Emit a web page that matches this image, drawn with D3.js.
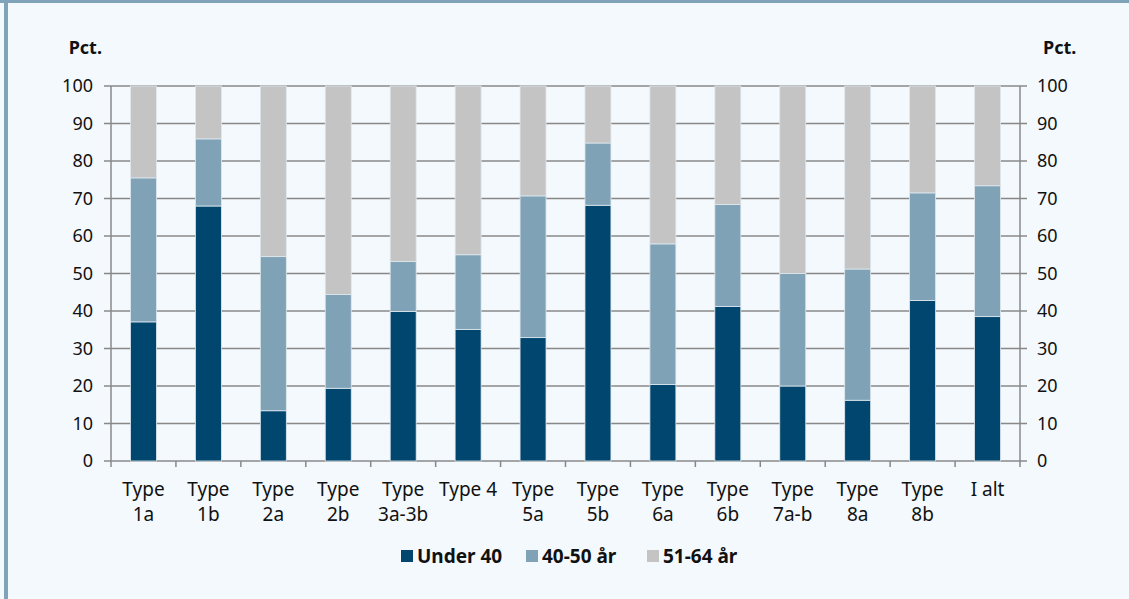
<!DOCTYPE html>
<html><head><meta charset="utf-8">
<script src="https://cdn.jsdelivr.net/npm/d3@7"></script>
<style>
html,body{margin:0;padding:0;background:#f4f9fd;}
svg{display:block;font-family:"Noto Sans",sans-serif;}
</style></head><body>
<svg id="c" width="1129" height="599"></svg>
<script>
const categories = ["Type 1a","Type 1b","Type 2a","Type 2b","Type 3a-3b","Type 4","Type 5a","Type 5b","Type 6a","Type 6b","Type 7a-b","Type 8a","Type 8b","I alt"];
const categoryLines = [["Type","1a"],["Type","1b"],["Type","2a"],["Type","2b"],["Type","3a-3b"],["Type 4"],["Type","5a"],["Type","5b"],["Type","6a"],["Type","6b"],["Type","7a-b"],["Type","8a"],["Type","8b"],["I alt"]];
const under40 = [37.1,68.0,13.4,19.4,39.9,35.1,32.9,68.2,20.4,41.2,20.0,16.2,42.8,38.5];
const age40to50 = [38.4,17.9,41.1,25.0,13.3,19.9,37.8,16.6,37.5,27.2,30.0,35.0,28.7,34.9];
const age51to64 = [24.5,14.1,45.5,55.6,46.8,45.0,29.3,15.2,42.1,31.6,50.0,48.8,28.5,26.6];
const seriesNames = ["Under 40","40-50 år","51-64 år"];
const seriesColors = ["#00466e","#7fa2b7","#c4c4c4"];
const yTicks = [0,10,20,30,40,50,60,70,80,90,100];

(function(){
const svg = d3.select("#c");
// frame
svg.append("rect").attr("x",0).attr("y",0).attr("width",1129).attr("height",3).attr("fill","#7fa3b8");
svg.append("rect").attr("x",4).attr("y",0).attr("width",4).attr("height",599).attr("fill","#7fa3b8");

const pl=111, pr=1020, pt=86, pb=461;
const x = d3.scaleBand().domain(categories).range([pl,pr]).paddingInner(0.6).paddingOuter(0.3);
const xb = d3.scaleBand().domain(categories).range([pl,pr]).padding(0);
const y = d3.scaleLinear().domain([0,100]).range([pb,pt]);

const data = categories.map((c,i)=>({cat:c, s0:under40[i], s1:age40to50[i], s2:age51to64[i]}));
const stack = d3.stack().keys(["s0","s1","s2"]);
const layers = stack(data);

// gridlines
svg.append("g").selectAll("line").data(yTicks).join("line")
  .attr("x1",pl-7).attr("x2",pr+7)
  .attr("y1",d=>y(d)).attr("y2",d=>y(d))
  .attr("stroke","#888").attr("stroke-width",1.5);

// bars
svg.append("g").selectAll("g").data(layers).join("g")
  .attr("fill",(d,i)=>seriesColors[i])
  .selectAll("rect").data(d=>d).join("rect")
  .attr("x",d=>x(d.data.cat)).attr("width",x.bandwidth())
  .attr("y",d=>y(d[1])).attr("height",d=>y(d[0])-y(d[1]))
  .attr("stroke","#dfe8ee").attr("stroke-width",0.8);

// axes lines
const axisColor="#888";
svg.append("line").attr("x1",pl).attr("x2",pl).attr("y1",pt).attr("y2",pb).attr("stroke",axisColor).attr("stroke-width",1.5);
svg.append("line").attr("x1",pr).attr("x2",pr).attr("y1",pt).attr("y2",pb).attr("stroke",axisColor).attr("stroke-width",1.5);
// x ticks at band boundaries
const bounds = categories.map(c=>xb(c)).concat([pr]);
svg.append("g").selectAll("line").data(bounds).join("line")
  .attr("x1",d=>d).attr("x2",d=>d).attr("y1",pb).attr("y2",pb+6)
  .attr("stroke",axisColor).attr("stroke-width",1.5);

const textColor="#111";
// y labels
svg.append("g").selectAll("text").data(yTicks).join("text")
  .attr("x",93).attr("y",d=>y(d)).attr("dy","0.36em").attr("text-anchor","end")
  .attr("font-size",18).attr("fill",textColor).text(d=>d);
svg.append("g").selectAll("text").data(yTicks).join("text")
  .attr("x",1037).attr("y",d=>y(d)).attr("dy","0.36em").attr("text-anchor","start")
  .attr("font-size",18).attr("fill",textColor).text(d=>d);
svg.append("text").attr("x",102).attr("y",54).attr("text-anchor","end").attr("font-size",18).attr("font-weight","bold").attr("fill",textColor).text("Pct.");
svg.append("text").attr("x",1043).attr("y",54).attr("font-size",18).attr("font-weight","bold").attr("fill",textColor).text("Pct.");

// x labels
const xl = svg.append("g").selectAll("text").data(categories).join("text")
  .attr("text-anchor","middle").attr("font-size",19).attr("fill",textColor)
  .attr("transform",d=>`translate(${x(d)+x.bandwidth()/2},496)`);
xl.selectAll("tspan").data((d,i)=>categoryLines[i]).join("tspan")
  .attr("x",0).attr("y",(d,j)=>j*25).text(d=>d);

// legend
const legendX=[401,526,647];
const lg = svg.append("g").selectAll("g").data(seriesNames).join("g")
  .attr("transform",(d,i)=>`translate(${legendX[i]},556)`);
lg.append("rect").attr("x",0).attr("y",-6).attr("width",12).attr("height",12).attr("fill",(d,i)=>seriesColors[i]);
lg.append("text").attr("x",16).attr("dy","0.36em").attr("font-size",19).attr("font-weight","bold").attr("fill",textColor).text(d=>d);
})();
</script></body></html>
